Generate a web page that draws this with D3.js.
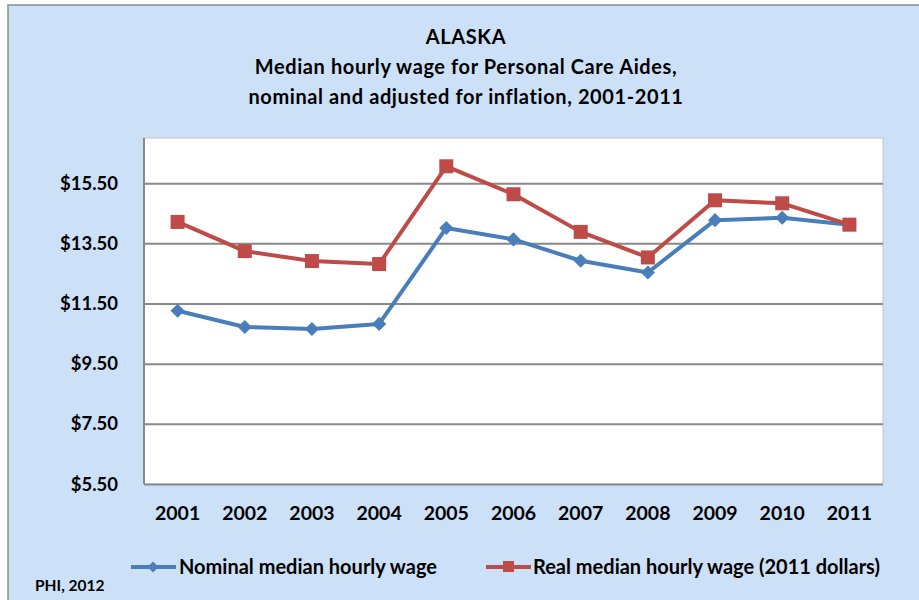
<!DOCTYPE html>
<html>
<head>
<meta charset="utf-8">
<script src="https://cdn.jsdelivr.net/npm/d3@7"></script>
<style>
  body { margin: 0; background: #fff; }
  text { font-family: Lato, "Open Sans", sans-serif; font-weight: bold; fill: #000; }
</style>
</head>
<body>
<div id="chart"></div>
<script>
const years = ["2001","2002","2003","2004","2005","2006","2007","2008","2009","2010","2011"];
const nominal = [11.26, 10.72, 10.65, 10.82, 14.01, 13.63, 12.92, 12.53, 14.27, 14.35, 14.12];
const real = [14.21, 13.24, 12.91, 12.81, 16.06, 15.13, 13.88, 13.03, 14.93, 14.83, 14.12];
const yTicks = [5.5, 7.5, 9.5, 11.5, 13.5, 15.5];
const titleLines = ["ALASKA", "Median hourly wage for Personal Care Aides,", "nominal and adjusted for inflation, 2001-2011"];

const width = 919, height = 600;
const plot = {left: 144, right: 883, top: 138, bottom: 484};
const blue = "#4a7ebb", red = "#be4b48";

const svg = d3.select("#chart").append("svg")
  .attr("width", width)
  .attr("height", height);

// chart area background
svg.append("rect")
  .attr("x", 8).attr("y", 5)
  .attr("width", width + 20).attr("height", height + 20)
  .attr("fill", "#cce0f7")
  .attr("stroke", "#8c8c8c")
  .attr("stroke-width", 1.5);

svg.selectAll(".title").data(titleLines).enter()
  .append("text")
  .attr("class", "title")
  .attr("x", 466)
  .attr("y", (d, i) => 44 + i * 30)
  .attr("text-anchor", "middle")
  .style("font-size", "20px")
  .style("letter-spacing", "0.6px")
  .text(d => d);

const x = d3.scalePoint().domain(years).range([plot.left, plot.right]).padding(0.5);
const y = d3.scaleLinear().domain([5.5, 17]).range([plot.bottom, plot.top]);

// plot area
svg.append("rect")
  .attr("x", plot.left).attr("y", plot.top)
  .attr("width", plot.right - plot.left).attr("height", plot.bottom - plot.top)
  .attr("fill", "#fff")
  .attr("stroke", "#c4c4c4")
  .attr("stroke-width", 1);

// gridlines
svg.append("g")
  .attr("transform", `translate(${plot.left},0)`)
  .call(d3.axisLeft(y).tickValues(yTicks).tickSize(-(plot.right - plot.left)).tickFormat(""))
  .call(g => g.select(".domain").remove())
  .call(g => g.selectAll(".tick line").attr("stroke", "#898989").attr("stroke-width", 2));

// y axis line and labels
svg.append("line")
  .attr("x1", plot.left).attr("x2", plot.left)
  .attr("y1", plot.top).attr("y2", plot.bottom)
  .attr("stroke", "#898989").attr("stroke-width", 2);

svg.selectAll(".ylab").data(yTicks).enter()
  .append("text")
  .attr("class", "ylab")
  .attr("x", 118)
  .attr("y", d => y(d) + 6.5)
  .attr("text-anchor", "end")
  .style("font-size", "18.5px")
  .text(d => "$" + d.toFixed(2));

svg.selectAll(".xlab").data(years).enter()
  .append("text")
  .attr("class", "xlab")
  .attr("x", d => x(d))
  .attr("y", 520)
  .attr("text-anchor", "middle")
  .style("font-size", "19.5px")
  .text(d => d);

const line = d3.line().x((d, i) => x(years[i])).y(d => y(d));

svg.append("path").datum(nominal)
  .attr("d", line).attr("fill", "none")
  .attr("stroke", blue).attr("stroke-width", 4).attr("stroke-linejoin", "round");

svg.append("path").datum(real)
  .attr("d", line).attr("fill", "none")
  .attr("stroke", red).attr("stroke-width", 4).attr("stroke-linejoin", "round");

const diamond = d3.symbol().type(d3.symbolSquare).size(100);
svg.selectAll(".dia").data(nominal).enter()
  .append("path")
  .attr("class", "dia")
  .attr("d", diamond)
  .attr("transform", (d, i) => `translate(${x(years[i])},${y(d)}) rotate(45)`)
  .attr("fill", blue);

svg.selectAll(".sq").data(real).enter()
  .append("rect")
  .attr("class", "sq")
  .attr("x", (d, i) => x(years[i]) - 7)
  .attr("y", d => y(d) - 7)
  .attr("width", 14).attr("height", 14)
  .attr("fill", red);

// legend
const legend = svg.append("g");
legend.append("line").attr("x1", 131).attr("x2", 176).attr("y1", 567).attr("y2", 567)
  .attr("stroke", blue).attr("stroke-width", 4);
legend.append("path").attr("d", d3.symbol().type(d3.symbolSquare).size(60))
  .attr("transform", "translate(153,567) rotate(45)").attr("fill", blue);
legend.append("text").attr("x", 179).attr("y", 574).style("font-size", "20px")
  .text("Nominal median hourly wage");

legend.append("line").attr("x1", 486).attr("x2", 531).attr("y1", 567).attr("y2", 567)
  .attr("stroke", red).attr("stroke-width", 4);
legend.append("rect").attr("x", 503).attr("y", 561).attr("width", 11).attr("height", 11)
  .attr("fill", red);
legend.append("text").attr("x", 533).attr("y", 574).style("font-size", "20px")
  .text("Real median hourly wage (2011 dollars)");

svg.append("text").attr("x", 35).attr("y", 591).style("font-size", "15.5px")
  .text("PHI, 2012");
</script>
</body>
</html>
